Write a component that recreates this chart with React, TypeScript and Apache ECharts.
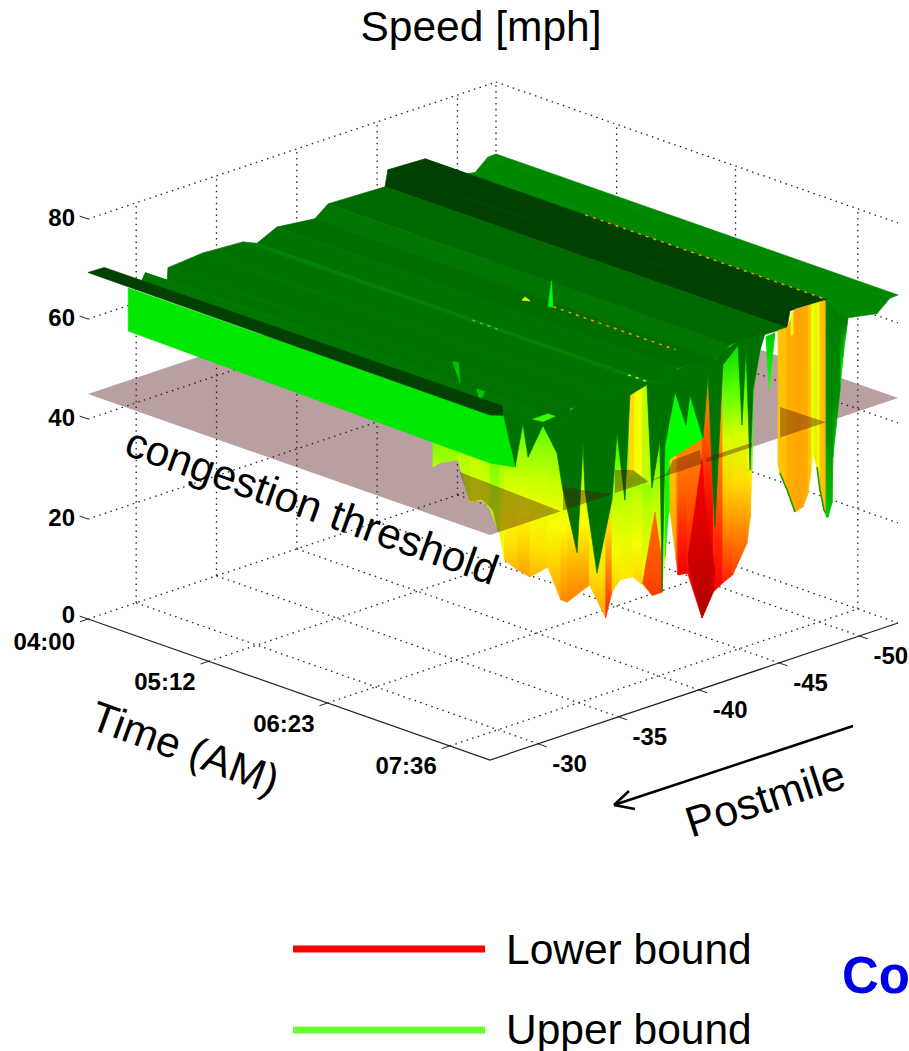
import React, { useEffect, useRef } from "react";
import * as echarts from "echarts";

// ---------- axes (minutes after 04:00, postmile, mph) ----------
const timeEnd = 240;
const pmFront = -27;
const pmBack = -52.4;
const timeTicks = [0, 72, 143, 216];
const timeLabels = ["04:00", "05:12", "06:23", "07:36"];
const pmTicks = [-30, -35, -40, -45, -50];
const pmLabels = ["-30", "-35", "-40", "-45", "-50"];
const speedTicks = [0, 20, 40, 60, 80];
const speedTop = 80;
const thresholdSpeed = 45;

// ---------- upper-bound plateau: rows of constant postmile ----------
const plateauPm = [-27.76, -30.3, -30.56, -31.93, -31.98, -34.16, -36.65, -37.52, -38.76, -41.12, -41.94, -45.49, -45.67, -47.98, -48.84, -49.28, -51.1, -51.89, -52.4];
const plateauSpeed = [68.5, 63.8, 65.4, 62.5, 64.9, 65.5, 65, 63.8, 65.7, 64.8, 66.9, 66.5, 69.7, 69.4, 65, 64.4, 63.3, 65.5, 65.6];
const plateauShade = [67, 66, 67, 67, 67, 67, 64, 67, 68, 66, 69, 78, 78, 62, 65, 63, 63, 63];

// ---------- lower bound at the last time slice ----------
const lowerPm = [-27, -27.6, -27.9, -28.7, -29.5, -30.6, -31.4, -31.8, -33.2, -34.2, -34.6, -35.1, -35.9, -36.5, -37.1, -37.7, -37.9, -38.1, -38.2, -38.6, -38.7, -39.3, -40.2, -40.9, -41.5, -42.1, -43, -43.2, -43.3, -43.4, -43.8, -44.1];
const lowerSpeed = [50.2, 44.7, 39, 36.2, 33.9, 34.7, 27.3, 26.4, 28.3, 20.7, 25.4, 27.3, 27, 24.8, 22, 22, 28.8, 37, 37.9, 27.4, 24.4, 24.1, 14.2, 18.6, 19.8, 20.7, 26.1, 31.1, 40.4, 56.3, 63.9, 66.9];
const lowerTopShade = [52, 52, 52, 52, 52, 52, 54, 56, 58, 60, 58, 58, 58, 56, 56, 54, 54, 54, 36, 36, 36, 34, 30, 36, 58, 58, 58, 58, 56, 56, 56, 56];
const lowerBottomShade = [44, 38, 32, 30, 32, 30, 27, 26, 30, 18, 34, 36, 34, 38, 36, 40, 54, 54, 30, 20, 14, 12, 4, 14, 18, 20, 26, 30, 50, 54, 56, 56];

// lower bound along the earliest postmile, before the last time slice
const earlyTime = [206, 210, 221, 223, 228, 235, 240];
const earlySpeed = [54.6, 55.9, 57.8, 55.6, 50.2, 51.4, 50.2];
const earlyTopShade = [50, 48, 46, 47, 47, 46, 46];
const earlyBottomShade = [46, 47, 44, 44, 40, 42, 42];

// lower bound, orange section
const curtainPm = [-44.93, -45.05, -45.49, -45.99, -46.49, -46.8, -47, -47.11, -47.23, -47.36, -47.54, -47.79, -48.04];
const curtainSpeed = [39.7, 37.9, 34.1, 29.1, 29.6, 32, 36.4, 39.7, 38.2, 36.6, 31.9, 27.6, 25.9];
const curtainShade = [33, 33, 31, 30.5, 31, 33, 37, 40, 44, 37, 33, 32, 32];

// upper bound, dark spikes hanging from the plateau
const spikePm = [-27.81, -28.56, -29.05, -29.37, -30.3, -31.17, -31.54, -32.42, -32.6, -32.79, -32.91, -33.66, -34.59, -34.91, -35.4, -35.71, -36.77, -37.08, -37.58, -37.71, -37.89, -38.52, -39.2, -39.45, -40.26, -40.57, -41, -41.5, -42.44, -42.69, -42.94, -43.19, -43.37, -43.81, -44.12];
const spikeSpeed = [68.1, 56.9, 65.2, 58, 63.4, 56.9, 49.1, 35.6, 45.4, 57.2, 47.6, 30.2, 43.8, 57.1, 42.9, 63.6, 64.5, 43.5, 52.6, 22, 51.2, 61.2, 53.8, 59.6, 50.1, 62.4, 31.5, 63.4, 66.3, 50.1, 65.8, 40.5, 56.3, 63.9, 66.9];
const rightSpikePm = [-47.92, -48.04, -48.29, -48.35, -48.79, -48.98, -49.29];
const rightSpikeSpeed = [26, 25.9, 28.4, 37.6, 50.5, 56.9, 64.4];
const smallSpikePm = [-44.18, -44.37, -44.74];
const smallSpikeSpeed = [66.1, 55.3, 66.3];

// front wall of the upper bound
const wallTime = [24, 240, 240, 240, 240, 24];
const wallPm = [-27, -27, -27.8, -28.56, -27, -27];
const wallSpeed = [69, 69, 68.1, 56.9, 59.4, 60.4];
const edgeTime = [0, 240, 240, 240, 3];
const edgePm = [-27, -27, -27.8, -27.76, -27.7];
const edgeSpeed = [69.3, 69, 68.1, 70, 69.9];

// coloured patches on the last time slice: postmile / speed / shade
const orangePatchPm = [-37.27, -36.5, -37.1, -37.7, -37.7];
const orangePatchSpeed = [38.5, 25.1, 22, 22, 28.4];
const redPatchPm = [-40.2, -39.33, -39.45, -40.2, -40.88, -41, -40.38];
const redPatchSpeed = [45.8, 27.3, 24, 14.2, 18.6, 22.9, 37];
const greenPatchPm = [-38.08, -40.26, -40.57, -38.33];
const greenPatchSpeed = [48, 50.1, 62.4, 61.4];
const yellowColumnPm = [-35.65, -36.0, -36.5, -36.95];
const yellowColumnShade = [35, 39, 45];
const yellowColumnTop = [63.5, 64, 64.5, 64.5];
const yellowColumnBottom = [47, 48, 46, 44];
const thinBarPm = [-45.74, -45.86];
const thinBarTop = [69.2, 69.3];
const thinBarBottom = [64.8, 64.7];

// threshold plane seen over the lower surface: minutes / postmile
const overTime = [
  [176.4, 240, 240, 219, 207, 205.4],
  [219.6, 236, 240, 240],
  [220, 225.4, 240, 237.8, 228.2, 227.5, 240, 240],
  [213.4, 240, 240],
  [236.2, 236.4, 240, 240],
];
const overPm = [
  [-31.75, -31.4, -27.5, -29.34, -29.92, -29.36],
  [-33.68, -34.37, -34.6, -31.55],
  [-36.86, -37.44, -36.88, -38.25, -39.62, -41.38, -40.2, -34.77],
  [-47.83, -47.92, -45.06],
  [-40.84, -43.69, -43.3, -40.44],
];

// small marks on the plateau: minutes / postmile / speed / shade
const fleckTime = [[165.6, 168, 180.7], [195.4, 195, 204.7], [130, 135.4, 133], [132, 145.7, 147]];
const fleckPm = [[-32.44, -32.54, -31.32], [-30.84, -31.37, -30.05], [-40.64, -40.41, -40.16], [-42.09, -40.46, -40.61]];
const fleckShade = [60, 60, 40, 54];
const ridgeTime = [[96, 238], [147, 220], [135, 151], [228, 240]];
const ridgePm = [-47.95, -40.64, -36.85, -36.85];
const ridgeSpeed = [69.5, 65, 65, 65];
const ridgeColor = ["#ff9a00", "#ff9a00", "#30e000", "#e8e800"];

// colour ramp, by speed value
const ramp: [number, number[]][] = [
  [0, [176, 0, 0]], [10, [228, 0, 0]], [16, [255, 0, 0]], [22, [255, 90, 0]], [30, [255, 160, 0]],
  [38, [255, 255, 0]], [46, [180, 255, 0]], [54, [0, 255, 0]], [60, [0, 200, 0]], [62, [0, 140, 0]],
  [66, [0, 118, 0]], [70, [0, 100, 0]], [78, [0, 64, 0]],
];
const shade = (v: number) => {
  for (let i = 1; i < ramp.length; i++) {
    if (v <= ramp[i][0]) {
      const [a, ca] = ramp[i - 1];
      const [b, cb] = ramp[i];
      const f = Math.max(0, (v - a) / (b - a));
      return `rgb(${ca.map((c, k) => Math.round(c + (cb[k] - c) * f)).join(",")})`;
    }
  }
  return `rgb(${ramp[ramp.length - 1][1].join(",")})`;
};
const fade = (top: number, bottom: number) =>
  new echarts.graphic.LinearGradient(0, 0, 0, 1, [0, 0.2, 0.4, 0.6, 0.8, 1].map((o) => ({ offset: o, color: shade(top + (bottom - top) * o) })));

// oblique view of (minutes, postmile, mph) on the page scale
const project = (t: number, pm: number, z: number) => {
  const u = t / timeEnd;
  const v = (pmFront - pm) / (pmFront - pmBack);
  return [88 + u * 402 + v * 408, 619 + u * 141 - v * 137 - z * 5];
};

const plateauAt = (pm: number) => {
  for (let i = 1; i < plateauPm.length; i++) {
    if (pm >= plateauPm[i]) {
      const f = (plateauPm[i - 1] - pm) / (plateauPm[i - 1] - plateauPm[i]);
      return plateauSpeed[i - 1] + (plateauSpeed[i] - plateauSpeed[i - 1]) * f;
    }
  }
  return plateauSpeed[plateauSpeed.length - 1];
};

type Item = any;
const poly = (pts: number[][], fill: any, seam = true): Item => ({ kind: "poly", pts, fill, seam });
const line = (pts: number[][], stroke: string, width: number, dash?: number[]): Item => ({ kind: "line", pts, stroke, width, dash });
const label = (at: number[], dx: number, dy: number, text: string, align: string): Item => ({ kind: "text", at, dx, dy, text, align });

const END = timeEnd;
const DOT = [1.5, 4.4];
const DOTC = "#222222";
const DOTW = 1.3;
const PLANE = "rgba(80,17,17,0.4)";

const gridItems: Item[] = [];
timeTicks.forEach((t) => {
  gridItems.push(line([[t, pmFront, 0], [t, pmBack, 0]], DOTC, DOTW, DOT));
  if (t > 0) gridItems.push(line([[t, pmBack, 0], [t, pmBack, speedTop]], DOTC, DOTW, DOT));
});
pmTicks.forEach((p) => {
  gridItems.push(line([[0, p, 0], [END, p, 0]], DOTC, DOTW, DOT));
  gridItems.push(line([[0, p, 0], [0, p, speedTop]], DOTC, DOTW, DOT));
});
gridItems.push(line([[0, pmBack, 0], [0, pmBack, speedTop]], DOTC, DOTW, DOT));
gridItems.push(line([[0, pmBack, 0], [END, pmBack, 0]], DOTC, DOTW, DOT));
speedTicks.slice(1).forEach((z) => {
  gridItems.push(line([[0, pmFront, z], [0, pmBack, z]], DOTC, DOTW, DOT));
  gridItems.push(line([[0, pmBack, z], [END, pmBack, z]], DOTC, DOTW, DOT));
});

const axisItems: Item[] = [
  line([[0, pmFront, 0], [END, pmFront, 0], [END, pmBack, 0]], "#222222", 1.2),
];
timeTicks.forEach((t, i) => {
  axisItems.push(line([[t, pmFront, 0], [t, pmFront + 0.5, 0]], "#222222", 1));
  axisItems.push(label([t, pmFront, 0], -13, t === 0 ? 22 : 20, timeLabels[i], "right"));
});
pmTicks.forEach((p, i) => {
  axisItems.push(line([[END, p, 0], [END + 5, p, 0]], "#222222", 1));
  axisItems.push(label([END, p, 0], 14, 20, pmLabels[i], "left"));
});
speedTicks.forEach((z) => {
  axisItems.push(line([[0, pmFront, z], [-5, pmFront, z]], "#222222", 1));
  axisItems.push(label([0, pmFront, z], -13, z === 0 ? -5 : -2, String(z), "right"));
});

const planeItems: Item[] = [poly([[0, pmFront, thresholdSpeed], [END, pmFront, thresholdSpeed], [END, pmBack, thresholdSpeed], [0, pmBack, thresholdSpeed]], PLANE, false)];

const plateauItems: Item[] = [];
for (let i = plateauPm.length - 2; i >= 0; i--) {
  plateauItems.push(poly([[0, plateauPm[i], plateauSpeed[i]], [END, plateauPm[i], plateauSpeed[i]], [END, plateauPm[i + 1], plateauSpeed[i + 1]], [0, plateauPm[i + 1], plateauSpeed[i + 1]]], shade(plateauShade[i])));
}
fleckTime.forEach((ts, i) => plateauItems.push(poly(ts.map((t, k) => [t, fleckPm[i][k], plateauAt(fleckPm[i][k])]), shade(fleckShade[i]))));
ridgeTime.forEach((ts, i) => {
  plateauItems.push(line([[ts[0], ridgePm[i], ridgeSpeed[i]], [ts[1], ridgePm[i], ridgeSpeed[i]]], ridgeColor[i], 1.4, [3, 5]));
});

const lowerItems: Item[] = [];
for (let i = 0; i < earlyTime.length - 1; i++) {
  lowerItems.push(poly([[earlyTime[i], pmFront, 62], [earlyTime[i + 1], pmFront, 62], [earlyTime[i + 1], pmFront, earlySpeed[i + 1]], [earlyTime[i], pmFront, earlySpeed[i]]], fade(earlyTopShade[i], earlyBottomShade[i])));
}
for (let i = 0; i < lowerPm.length - 1; i++) {
  lowerItems.push(poly([[END, lowerPm[i], plateauAt(lowerPm[i])], [END, lowerPm[i + 1], plateauAt(lowerPm[i + 1])], [END, lowerPm[i + 1], lowerSpeed[i + 1]], [END, lowerPm[i], lowerSpeed[i]]], fade(lowerTopShade[i], lowerBottomShade[i])));
}
for (let i = 0; i < curtainPm.length - 1; i++) {
  lowerItems.push(poly([[END, curtainPm[i], plateauAt(curtainPm[i])], [END, curtainPm[i + 1], plateauAt(curtainPm[i + 1])], [END, curtainPm[i + 1], curtainSpeed[i + 1]], [END, curtainPm[i], curtainSpeed[i]]], shade(curtainShade[i])));
}
lowerItems.push(line(curtainPm.slice(1, 4).map((p, i) => [END, p, curtainSpeed[i + 1]]), "#1a9a00", 1.6));
lowerItems.push(line(curtainPm.slice(9).map((p, i) => [END, p, curtainSpeed[i + 9]]), "#1a9a00", 1.6));
lowerItems.push(poly(thinBarPm.flatMap((p, i) => [[END, p, i ? thinBarTop[i] : thinBarBottom[i]], [END, p, i ? thinBarBottom[i] : thinBarTop[i]]]), shade(40)));
lowerItems.push(poly(orangePatchPm.map((p, i) => [END, p, orangePatchSpeed[i]]), fade(24, 20)));
lowerItems.push(poly(redPatchPm.map((p, i) => [END, p, redPatchSpeed[i]]), fade(15, 0)));
lowerItems.push(poly(greenPatchPm.map((p, i) => [END, p, greenPatchSpeed[i]]), shade(54)));
yellowColumnShade.forEach((c, i) => {
  lowerItems.push(poly([[END, yellowColumnPm[i], yellowColumnTop[i]], [END, yellowColumnPm[i + 1], yellowColumnTop[i + 1]], [END, yellowColumnPm[i + 1], yellowColumnBottom[i + 1]], [END, yellowColumnPm[i], yellowColumnBottom[i]]], shade(c)));
});

const skirtFill = shade(67);
const upperItems: Item[] = [
  poly([...spikePm.map((p, i) => [END, p, spikeSpeed[i]]), ...spikePm.slice().reverse().map((p) => [END, p, plateauAt(p) + 0.2])], skirtFill),
  poly([...smallSpikePm.map((p, i) => [END, p, smallSpikeSpeed[i]])], fade(60, 52)),
];
for (let i = rightSpikePm.length - 2; i >= 0; i--) {
  const light = i >= 4 ? 60 : 64;
  upperItems.push(poly([[END, rightSpikePm[i], plateauAt(rightSpikePm[i])], [END, rightSpikePm[i + 1], plateauAt(rightSpikePm[i + 1])], [END, rightSpikePm[i + 1], rightSpikeSpeed[i + 1]], [END, rightSpikePm[i], rightSpikeSpeed[i]]], fade(65, light - 4)));
}
upperItems.push(poly(wallTime.map((t, i) => [t, wallPm[i], wallSpeed[i]]), "#00e800"));
upperItems.push(poly(edgeTime.map((t, i) => [t, edgePm[i], edgeSpeed[i]]), shade(78)));

const overItems: Item[] = overTime.map((ts, i) => poly(ts.map((t, k) => [t, overPm[i][k], thresholdSpeed]), PLANE, false));

const layer = (name: string, items: Item[]) => ({
  type: "custom",
  name,
  coordinateSystem: "cartesian2d",
  silent: true,
  clip: false,
  data: items.map((_, i) => [i, 0]),
  renderItem: (params: any, api: any) => {
    const it = items[params.dataIndex];
    const px = (p: number[]) => api.coord(project(p[0], p[1], p[2]));
    if (it.kind === "poly") {
      return {
        type: "polygon",
        shape: { points: it.pts.map(px) },
        style: it.seam ? { fill: it.fill, stroke: it.fill, lineWidth: 0.7 } : { fill: it.fill },
      };
    }
    if (it.kind === "line") {
      return {
        type: "polyline",
        shape: { points: it.pts.map(px) },
        style: { fill: null, stroke: it.stroke, lineWidth: it.width, lineDash: it.dash },
      };
    }
    const [x, y] = px(it.at);
    return {
      type: "text",
      x: x + it.dx,
      y: y + it.dy,
      style: {
        text: it.text,
        fill: "#000",
        fontFamily: "Liberation Sans",
        fontWeight: "bold",
        fontSize: 24,
        align: it.align,
        verticalAlign: "middle",
      },
    };
  },
});

const FONT = "Liberation Sans";
const note = (text: string, x: number, y: number, deg: number, size: number, extra: any = {}) => ({
  type: "text",
  x,
  y,
  rotation: (deg * Math.PI) / 180,
  silent: true,
  z: 20,
  style: { text, fontFamily: FONT, fontSize: size, fill: "#000", align: "center", verticalAlign: "middle", ...extra },
});
const stroke = (x1: number, y1: number, x2: number, y2: number, color: string, w: number) => ({
  type: "line",
  silent: true,
  z: 20,
  shape: { x1, y1, x2, y2 },
  style: { stroke: color, lineWidth: w },
});

export default function App() {
  const ref = useRef<HTMLDivElement>(null);
  useEffect(() => {
    document.body.style.margin = "0";
    const chart = echarts.init(ref.current!, null, { renderer: "svg" });
    chart.setOption({
      animation: false,
      backgroundColor: "#ffffff",
      title: {
        text: "Speed [mph]",
        left: 476,
        top: 0,
        textAlign: "center",
        textStyle: { fontFamily: FONT, fontWeight: "normal", fontSize: 42.5, color: "#000" },
      },
      grid: { left: 0, right: 0, top: 0, bottom: 0 },
      xAxis: { type: "value", min: 0, max: 909, show: false },
      yAxis: { type: "value", min: 0, max: 1051, inverse: true, show: false },
      series: [
        layer("Grid", gridItems),
        layer("Axes", axisItems),
        layer("Congestion threshold", planeItems),
        layer("Upper bound plateau", plateauItems),
        layer("Lower bound", lowerItems),
        layer("Upper bound", upperItems),
        layer("Threshold over surface", overItems),
      ],
      graphic: [
        note("congestion threshold", 312, 506, -19.6, 42.5),
        note("Time (AM)", 185, 748, -20, 42.5),
        note("Postmile", 765, 798, 18, 43),
        stroke(853, 726, 614, 805, "#000", 2.5),
        stroke(614, 805, 629, 791, "#000", 2.5),
        stroke(614, 805, 635, 809, "#000", 2.5),
        stroke(293, 949, 485, 949, "#ff0000", 7),
        stroke(293, 1030, 485, 1030, "#66ff33", 7),
        note("Lower bound", 506, 949, 0, 42.5, { align: "left" }),
        note("Upper bound", 506, 1029, 0, 42.5, { align: "left" }),
        note("Co", 842, 975, 0, 51, { align: "left", fontWeight: "bold", fill: "#0000e6" }),
      ],
    });
    return () => chart.dispose();
  }, []);
  return <div ref={ref} style={{ width: 909, height: 1051 }} />;
}
